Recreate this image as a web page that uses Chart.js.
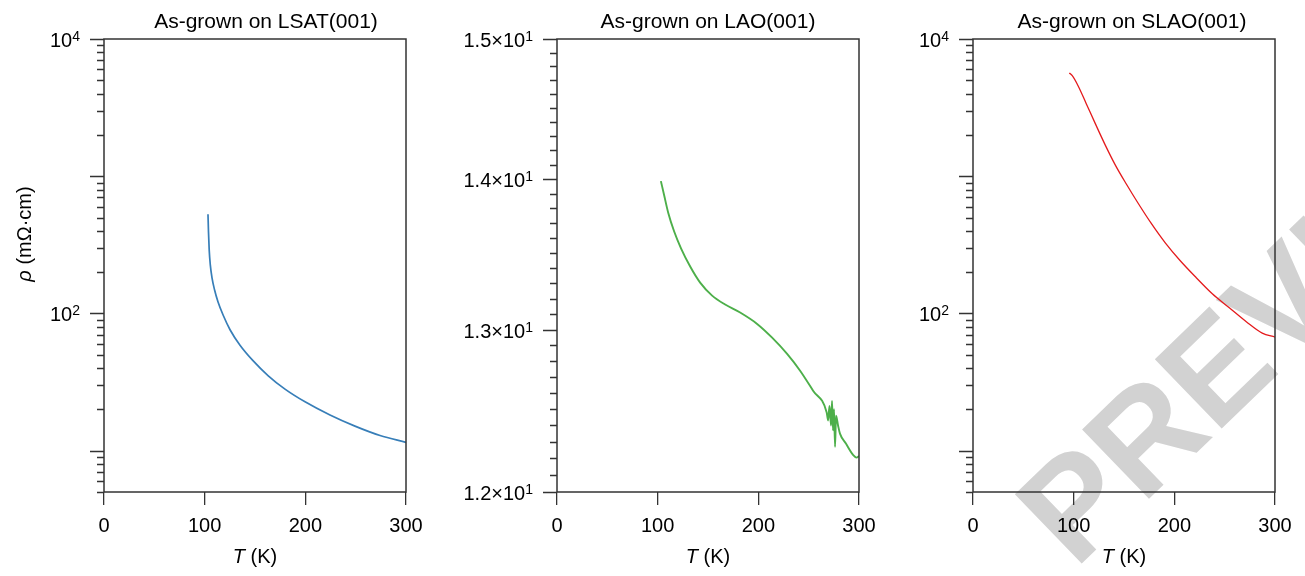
<!DOCTYPE html>
<html>
<head>
<meta charset="utf-8">
<script src="https://cdn.jsdelivr.net/npm/chart.js@4.4.1/dist/chart.umd.min.js"></script>
<style>
  body { margin: 0; background: #fff; }
  #wrap { position: relative; width: 1305px; height: 576px; overflow: hidden; }
  canvas { position: absolute; top: 0; }
</style>
</head>
<body>
<div id="wrap">
  <canvas id="lsat" width="440" height="576" style="left:0"></canvas>
  <canvas id="lao" width="440" height="576" style="left:440px"></canvas>
  <canvas id="slao" width="425" height="576" style="left:880px"></canvas>
</div>
<script>
// resistivity vs temperature, three substrates
const lsatT   = [103.3, 103.8, 104.5, 105.6, 107.3, 109.8, 113.2, 118.2, 125.2, 135.1, 148.0, 162.9, 179.8, 199.7, 224.5, 249.3, 274.2, 300];
const lsatRho = [528, 393, 290.6, 226.1, 181.8, 148.7, 121.7, 97.8, 76.1, 58.7, 45.3, 35.3, 28.1, 22.7, 18.2, 15.1, 12.9, 11.5];

const laoT   = [103.2, 106.5, 110.4, 116.4, 123.3, 132.3, 142.2, 154.1, 167.0, 181.9, 198.8, 213.7, 228.6, 241.5, 254.4, 267.9,
                269.3, 270.7, 272.2, 273.2, 274.2, 275.2, 276.2, 277.2, 279.2, 281.1, 287, 294.3, 297.6, 300];
const laoRho = [13.986, 13.887, 13.772, 13.643, 13.529, 13.410, 13.304, 13.219, 13.161, 13.109, 13.036, 12.948, 12.845, 12.739, 12.614, 12.480,
                12.43, 12.52, 12.40, 12.55, 12.37, 12.50, 12.27, 12.46, 12.40, 12.35, 12.29, 12.22, 12.205, 12.215];

const slaoT   = [95.7, 98.6, 104.6, 112.5, 121.5, 131.4, 141.4, 152.3, 164.2, 177.1, 191.0, 205.9, 221.8, 237.7, 254.6, 271.5, 287.3, 300];
const slaoRho = [5658, 5400, 4529, 3379, 2417, 1686, 1206, 878, 633, 453, 327, 242, 182, 139, 110, 87.0, 71.8, 67.3];

// tick marks and labels
const tTicks = [0, 100, 200, 300];
const rhoMajor = [10, 100, 1000, 10000];
const rhoLabelVals = [100, 10000];
const rhoLabelText = [['10', '2'], ['10', '4']];
const laoMajor = [12, 13, 14, 15];
const laoLabelVals = [12, 13, 14, 15];
const laoLabelText = [['1.2×10', '1'], ['1.3×10', '1'], ['1.4×10', '1'], ['1.5×10', '1']];

const FONT = '"Liberation Sans", Arial, Helvetica, sans-serif';
const AXIS = '#333';

function logMinors(lo, hi) {
  const out = [];
  for (let d = 1; d <= 1000; d *= 10) {
    for (let k = 2; k <= 9; k++) {
      const v = k * d;
      if (v >= lo && v <= hi) out.push(v);
    }
  }
  return out;
}
function stepMinors(lo, hi, step) {
  const out = [];
  for (let v = lo; v <= hi + 1e-9; v += step) {
    const r = Math.round(v * 10) / 10;
    if (Math.abs(r - Math.round(r)) > 1e-6) out.push(r);
  }
  return out;
}

// italic symbol followed by upright unit text, centred at 0,0
function mixedText(ctx, sym, rest, size) {
  ctx.font = 'italic ' + size + 'px ' + FONT;
  const w1 = ctx.measureText(sym).width;
  ctx.font = size + 'px ' + FONT;
  const w2 = ctx.measureText(rest).width;
  const x0 = -(w1 + w2) / 2;
  ctx.textAlign = 'left';
  ctx.textBaseline = 'middle';
  ctx.font = 'italic ' + size + 'px ' + FONT;
  ctx.fillText(sym, x0, 0);
  ctx.font = size + 'px ' + FONT;
  ctx.fillText(rest, x0 + w1, 0);
}

const framePlugin = {
  id: 'frame',
  beforeDraw(chart, args, o) {
    if (!o.stamp) return;
    const ctx = chart.ctx;
    ctx.save();
    ctx.translate(o.stamp.x, o.stamp.y);
    ctx.rotate(o.stamp.angle * Math.PI / 180);
    ctx.font = 'bold 140px ' + FONT;
    ctx.fillStyle = '#d2d2d2';
    ctx.textAlign = 'left';
    ctx.textBaseline = 'alphabetic';
    ctx.fillText('PREVIEW', 0, 0);
    ctx.restore();
  },
  afterDraw(chart, args, o) {
    const ctx = chart.ctx;
    const a = chart.chartArea;
    const ys = chart.scales.y;
    ctx.save();
    ctx.strokeStyle = AXIS;
    ctx.lineWidth = 1.5;
    ctx.strokeRect(a.left, a.top, a.right - a.left, a.bottom - a.top);

    // y ticks, pointing out of the frame
    ctx.lineWidth = 1.3;
    ctx.beginPath();
    o.minor.forEach(v => {
      const p = Math.round(ys.getPixelForValue(v)) + 0.5;
      ctx.moveTo(a.left - 7, p); ctx.lineTo(a.left, p);
    });
    o.major.forEach(v => {
      const p = Math.round(ys.getPixelForValue(v)) + 0.5;
      ctx.moveTo(a.left - 14, p); ctx.lineTo(a.left, p);
    });
    ctx.stroke();

    // y labels with raised exponent
    ctx.fillStyle = '#000';
    ctx.textAlign = 'left';
    ctx.textBaseline = 'alphabetic';
    o.labelVals.forEach((v, i) => {
      const p = ys.getPixelForValue(v);
      const [base, sup] = o.labelText[i];
      ctx.font = '14px ' + FONT;
      const ws = ctx.measureText(sup).width;
      ctx.font = '20px ' + FONT;
      const wb = ctx.measureText(base).width;
      const xr = a.left - 14 - 10;
      ctx.fillText(base, xr - ws - wb, p + 8);
      ctx.font = '14px ' + FONT;
      ctx.fillText(sup, xr - ws, p + 2);
    });

    // panel title
    ctx.font = '21px ' + FONT;
    ctx.textAlign = 'center';
    ctx.fillText(o.title, o.titleX, 28);

    // axis titles
    ctx.save();
    ctx.translate((a.left + a.right) / 2, 557);
    mixedText(ctx, 'T', ' (K)', 20);
    ctx.restore();
    if (o.yTitle) {
      ctx.save();
      ctx.translate(25, 234);
      ctx.rotate(-Math.PI / 2);
      mixedText(ctx, 'ρ', ' (mΩ·cm)', 20);
      ctx.restore();
    }
    ctx.restore();
  }
};

function makeChart(id, xs, ys, color, width, yMin, yMax, yWidth, rightPad, frameOpts) {
  return new Chart(document.getElementById(id), {
    type: 'line',
    data: {
      datasets: [{
        data: xs.map((t, i) => ({ x: t, y: ys[i] })),
        borderColor: color,
        borderWidth: width,
        pointRadius: 0,
        fill: false,
        cubicInterpolationMode: 'monotone'
      }]
    },
    options: {
      responsive: false,
      animation: false,
      events: [],
      layout: { padding: { top: 39, right: rightPad, left: 0, bottom: 0 } },
      plugins: { legend: { display: false }, tooltip: { enabled: false }, frame: frameOpts },
      scales: {
        x: {
          type: 'linear', min: 0, max: 300,
          afterFit: s => { s.height = 84; s.paddingLeft = 0; s.paddingRight = 0; },
          afterBuildTicks: s => { s.ticks = tTicks.map(v => ({ value: v })); },
          border: { display: false },
          grid: { drawOnChartArea: false, tickLength: 13, color: AXIS, lineWidth: 1.3 },
          ticks: { color: '#000', font: { family: FONT, size: 20 }, padding: 9, maxRotation: 0, autoSkip: false }
        },
        y: {
          type: 'logarithmic', min: yMin, max: yMax,
          afterFit: s => { s.width = yWidth; s.paddingTop = 0; s.paddingBottom = 0; },
          border: { display: false },
          grid: { display: false },
          ticks: { display: false }
        }
      }
    },
    plugins: [framePlugin]
  });
}

makeChart('lsat', lsatT, lsatRho, '#377eb8', 1.7, 5, 10000, 104, 34, {
  minor: logMinors(5, 10000), major: rhoMajor,
  labelVals: rhoLabelVals, labelText: rhoLabelText,
  title: 'As-grown on LSAT(001)', titleX: 266, yTitle: true
});

makeChart('lao', laoT, laoRho, '#4daf4a', 1.9, 12, 15, 117, 21, {
  minor: stepMinors(12, 15, 0.1), major: laoMajor,
  labelVals: laoLabelVals, labelText: laoLabelText,
  title: 'As-grown on LAO(001)', titleX: 268, yTitle: false
});

makeChart('slao', slaoT, slaoRho, '#e41a1c', 1.3, 5, 10000, 93, 30, {
  minor: logMinors(5, 10000), major: rhoMajor,
  labelVals: rhoLabelVals, labelText: rhoLabelText,
  title: 'As-grown on SLAO(001)', titleX: 252, yTitle: false,
  // diagonal stamp behind the right panel
  stamp: { x: 195, y: 570, angle: -44 }
});
</script>
</body>
</html>
